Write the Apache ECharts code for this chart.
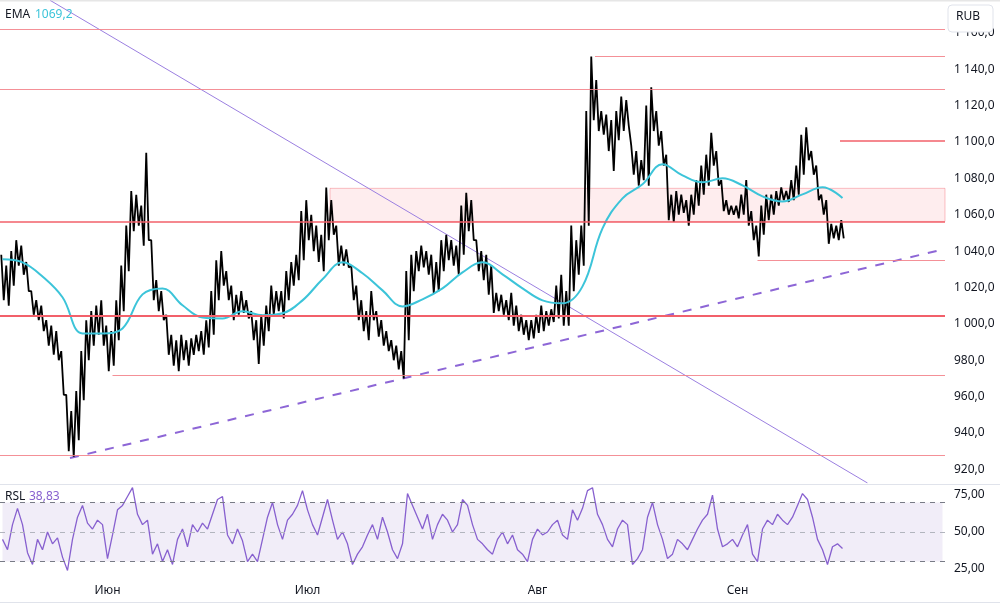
<!DOCTYPE html>
<html>
<head>
<meta charset="utf-8">
<script src="https://cdn.jsdelivr.net/npm/echarts@6/dist/echarts.min.js"></script>
<style>
  html, body { margin: 0; padding: 0; background: #fff; }
  #chart { width: 1000px; height: 604px; }
</style>
</head>
<body>
<div id="chart"></div>
<script>
// bar ranges, one per column (RUB)
const priceLow = [
  1013,1010,1021,1032,1027,1018,1005,1002,996,988,
  983,980,961,930,927,936,958,980,988,994,
  988,974,977,991,1007,1029,1051,1054,1043,1046,
  1013,1007,1002,983,977,974,980,977,983,985,
  983,987,994,1013,1021,1013,1002,1005,1006,1003,
  991,978,988,996,1005,1007,1003,1013,1021,1024,
  1035,1046,1040,1034,1029,1046,1049,1032,1032,1031,
  1013,1002,996,991,1002,993,988,985,980,975,
  970,991,1018,1029,1031,1027,1017,1018,1029,1035,
  1032,1027,1038,1051,1046,1029,1024,1016,1006,1007,
  1005,1002,999,996,994,991,992,995,996,999,
  1001,1003,999,999,1018,1027,1032,1054,1112,1106,
  1104,1095,1084,1101,1106,1109,1082,1076,1079,1076,
  1106,1098,1087,1057,1056,1060,1061,1054,1060,1065,
  1071,1076,1087,1076,1062,1060,1060,1058,1060,1054,
  1046,1037,1049,1057,1060,1065,1068,1067,1068,1071,
  1082,1090,1082,1068,1060,1044,1047,1046,1047
];
const priceHigh = [
  1038,1032,1040,1046,1043,1034,1018,1013,1010,1002,
  999,996,985,961,952,963,985,1002,1007,1010,
  1013,999,996,1013,1032,1054,1073,1071,1065,1094,
  1046,1024,1018,1005,994,991,994,991,992,994,
  996,1002,1018,1035,1040,1029,1021,1016,1018,1013,
  1007,1002,1005,1010,1021,1018,1018,1029,1034,1038,
  1062,1068,1060,1054,1049,1075,1068,1054,1043,1041,
  1032,1021,1013,1007,1018,1007,1002,996,991,988,
  985,1029,1038,1040,1043,1040,1038,1034,1046,1049,
  1046,1043,1065,1072,1068,1046,1040,1038,1032,1017,
  1016,1013,1017,1010,1005,1002,1002,1005,1010,1007,
  1008,1021,1027,1018,1054,1046,1054,1117,1147,1134,
  1117,1115,1112,1117,1125,1123,1098,1095,1090,1120,
  1130,1117,1106,1093,1071,1073,1071,1068,1071,1079,
  1087,1093,1105,1095,1079,1068,1065,1065,1071,1079,
  1062,1054,1065,1071,1071,1073,1075,1073,1079,1087,
  1104,1108,1095,1087,1071,1068,1055,1054,1057
];
// EMA, read every 4th column
const emaVals = [
  1035.5,1033.8,1026,1014.6,994.7,994.7,997.5,1016.2,1019.5,1010.2,
  1003.5,1003,1006.9,1004.7,1005.8,1012.9,1024.5,1033.8,1027.8,1018.4,
  1009.6,1013.5,1019.5,1028.3,1033.8,1027.2,1019.5,1012.9,1011.3,1020.6,
  1052.5,1069,1076.7,1087.7,1081.6,1077.8,1080,1076.1,1070.1,1067.3,
  1071.2,1075.1,1069.2
];
const rsiVals = [
  45,38,55,66,55,36,28,45,38,50,
  42,46,33,24,45,60,68,56,52,58,
  55,32,48,65,68,74,80,62,55,58,
  35,42,30,38,28,45,52,40,55,50,
  56,52,62,72,74,48,42,52,44,30,
  35,30,45,60,70,55,45,58,62,68,
  78,65,55,48,60,72,58,45,50,42,
  28,35,40,48,55,45,60,50,38,32,
  42,76,68,60,52,62,45,55,62,58,
  50,55,72,68,55,45,42,38,35,45,
  50,42,48,38,35,30,45,52,48,50,
  55,58,48,45,65,58,66,78,80,62,
  55,45,40,52,58,55,28,32,38,60,
  70,55,45,32,35,45,42,38,45,52,
  58,62,75,52,40,42,45,40,48,55,
  35,30,52,58,55,62,58,55,60,68,
  76,72,60,45,38,28,40,42,38.83
];
const monthLabels = { 21: 'Июн', 61: 'Июл', 107: 'Авг', 147: 'Сен' };
const levelsFull = [1162, 1129, 927.6];
const levelsStrong = [1056.3, 1004.7];
const levelsPartial = [[118.5, 1147], [22, 971.7], [151, 1034.9]];
const levelsPartialStrong = [[167.5, 1100.5]];
const zone = { from: 65.5, top: 1074.5, bottom: 1056.3 };
const trendDown = [[9.5, 1177.9], [173, 912.5]];
const trendUp = [[13.5, 926.2], [188.5, 1041.2]];
const rsiBands = [30, 50, 70];
const emaLast = '1069,2';
const rsiLast = '38,83';

const N = 189;
const cats = [];
for (let i = 0; i < N; i++) cats.push(String(i));

// each column drawn as a stroke high -> low, joined to the next column
const priceLine = [];
priceLow.forEach((lo, i) => {
  priceLine.push([i - 0.25, priceHigh[i]]);
  priceLine.push([i + 0.25, lo]);
});

const emaData = emaVals.map((v, k) => [k * 4, v]);

function fmtPrice(v) {
  if (Math.abs(v % 20) > 1e-6) return '';
  let s = v.toFixed(1).replace('.', ',');
  if (v >= 1000) s = s.slice(0, 1) + ' ' + s.slice(1);
  return s;
}

const font = 'Noto Sans, sans-serif';
const pink = '#f27d85';
const red = '#f2606a';

const chart = echarts.init(document.getElementById('chart'), null, { renderer: 'canvas' });

const option = {
  animation: false,
  backgroundColor: '#fff',
  textStyle: { fontFamily: font },
  grid: [
    { left: 0, right: 55, top: 1, height: 482 },
    { left: 0, right: 55, top: 484, height: 96 }
  ],
  xAxis: [
    {
      type: 'value', gridIndex: 0, min: -0.5, max: N - 0.5,
      axisLine: { show: false }, axisTick: { show: false },
      axisLabel: { show: false }, splitLine: { show: false }
    },
    {
      type: 'category', data: cats, gridIndex: 1,
      axisLine: { show: false }, axisTick: { show: false },
      splitLine: { show: false },
      axisLabel: {
        interval: (i) => monthLabels[i] !== undefined,
        formatter: (v, i) => monthLabels[i] || '',
        color: '#131722', fontSize: 12, margin: 5, fontFamily: font
      }
    }
  ],
  yAxis: [
    {
      type: 'value', gridIndex: 0, position: 'right',
      min: 912.5, max: 1177.5, interval: 2.5,
      axisLine: { show: false }, axisTick: { show: false },
      splitLine: { show: false },
      axisLabel: { formatter: fmtPrice, color: '#131722', fontSize: 12, margin: 9, fontFamily: font }
    },
    {
      type: 'value', gridIndex: 1, position: 'right',
      min: 17.5, max: 82.5, interval: 2.5,
      axisLine: { show: false }, axisTick: { show: false },
      splitLine: { show: false },
      axisLabel: {
        formatter: (v) => (v % 25 === 0 ? v.toFixed(2).replace('.', ',') : ''),
        color: '#131722', fontSize: 12, margin: 9, fontFamily: font
      }
    }
  ],
  series: [
    {
      type: 'line', name: 'price', xAxisIndex: 0, yAxisIndex: 0,
      data: priceLine, showSymbol: false,
      lineStyle: { color: '#000', width: 1.8 },
      markArea: {
        silent: true,
        itemStyle: { color: 'rgba(242,54,69,0.09)', borderColor: 'rgba(242,54,69,0.3)', borderWidth: 1 },
        data: [[{ coord: [zone.from, zone.top] }, { coord: [N - 0.5, zone.bottom] }]]
      },
      markLine: {
        silent: true, symbol: 'none', label: { show: false },
        lineStyle: { color: pink, width: 1.2, type: 'solid', opacity: 0.85 },
        data: [
          ...levelsFull.map(v => ({ yAxis: v })),
          ...levelsStrong.map((v, k) => ({ yAxis: v, lineStyle: { color: red, width: k === 1 ? 2 : 1.5, type: 'solid', opacity: 1 } })),
          ...levelsPartial.map(p => [
            { coord: [p[0], p[1]] },
            { coord: [N - 0.5, p[1]] }
          ]),
          ...levelsPartialStrong.map(p => [
            { coord: [p[0], p[1]], lineStyle: { color: red, width: 1.5, type: 'solid', opacity: 1 } },
            { coord: [N - 0.5, p[1]] }
          ])
        ]
      },
      z: 3
    },
    {
      type: 'line', name: 'EMA', xAxisIndex: 0, yAxisIndex: 0,
      data: emaData, smooth: 0.4, showSymbol: false,
      lineStyle: { color: '#3cc4d9', width: 2 }, z: 4
    },
    {
      type: 'line', name: 'down', xAxisIndex: 0, yAxisIndex: 0,
      data: trendDown, showSymbol: false,
      lineStyle: { color: '#9b7fe0', width: 1 }, z: 2
    },
    {
      type: 'line', name: 'up', xAxisIndex: 0, yAxisIndex: 0,
      data: trendUp, showSymbol: false,
      lineStyle: { color: '#8d66d6', width: 2, type: [9, 9] }, z: 2
    },
    {
      type: 'line', name: 'RSI', xAxisIndex: 1, yAxisIndex: 1,
      data: rsiVals, showSymbol: false,
      lineStyle: { color: '#8760cf', width: 1.3 },
      markArea: {
        silent: true,
        itemStyle: { color: 'rgba(126,87,194,0.11)' },
        data: [[{ coord: [0, rsiBands[2]] }, { coord: [N - 1, rsiBands[0]] }]]
      },
      markLine: {
        silent: true, symbol: 'none', label: { show: false },
        data: rsiBands.map((v, k) => ({
          yAxis: v,
          lineStyle: { color: k === 1 ? '#b2b5be' : '#787b86', width: 1, type: [5, 5] }
        }))
      },
      z: 3
    }
  ],
  graphic: [
    { type: 'line', shape: { x1: 0, y1: 0.5, x2: 1000, y2: 0.5 }, style: { stroke: '#e6e6e6', lineWidth: 2 }, silent: true },
    { type: 'line', shape: { x1: 0, y1: 484.5, x2: 1000, y2: 484.5 }, style: { stroke: '#e0e3eb', lineWidth: 1 }, silent: true },
    { type: 'line', shape: { x1: 0, y1: 602.5, x2: 1000, y2: 602.5 }, style: { stroke: '#e0e3eb', lineWidth: 1 }, silent: true },
    { type: 'rect', shape: { x: 948, y: 5, width: 45, height: 27, r: 4 }, style: { fill: '#fff', stroke: '#e0e3eb', lineWidth: 1 }, z: 100 },
    { type: 'text', left: 956, top: 11, z: 101, style: { text: 'RUB', fill: '#131722', font: '12px ' + font } },
    { type: 'text', left: 5, top: 9, z: 100, style: { text: 'EMA', fill: '#131722', font: '12px ' + font } },
    { type: 'text', left: 35, top: 9, z: 100, style: { text: emaLast, fill: '#3cc4d9', font: '12px ' + font } },
    { type: 'text', left: 5, top: 491, z: 100, style: { text: 'RSL', fill: '#131722', font: '12px ' + font } },
    { type: 'text', left: 29, top: 491, z: 100, style: { text: rsiLast, fill: '#8760cf', font: '12px ' + font } }
  ]
};

chart.setOption(option);
</script>
</body>
</html>
